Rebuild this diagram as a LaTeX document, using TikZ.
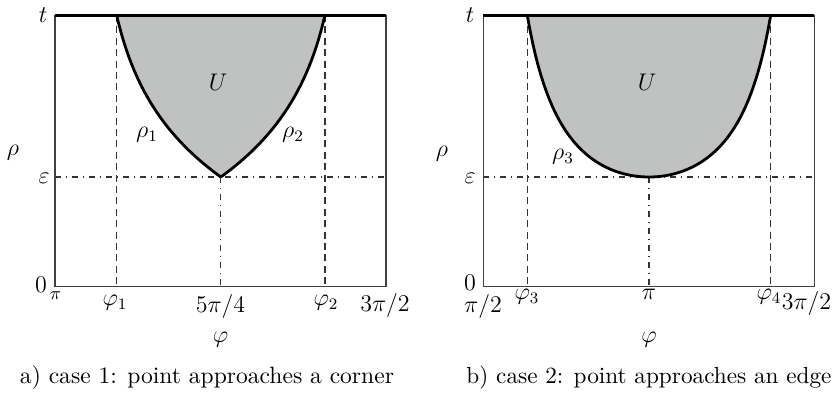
\documentclass[tikz,border=0pt]{standalone}
\usepackage{graphicx}
\begin{document}
\begin{tikzpicture}[x=0.5pt,y=-0.5pt,
  frame/.style={draw=black!75, line width=0.75pt},
  topline/.style={draw=black, line width=1.5pt},
  bdry/.style={draw=black, line width=1.4pt},
  ufill/.style={fill={rgb,255:red,192;green,194;blue,194}},
  vdash/.style={draw=black!80, line width=0.6pt, dash pattern=on 3.5pt off 2.2pt},
  dashdot/.style={draw=black!80, line width=0.6pt, dash pattern=on 3pt off 2.5pt on 0.5pt off 2.5pt},
  lbl/.style={font=\fontsize{12}{14}\selectfont, inner sep=0pt},
  slbl/.style={font=\fontsize{9}{11}\selectfont, inner sep=0pt},
  captxt/.style={font=\fontsize{10}{12}\selectfont, inner sep=0pt}]
\useasboundingbox (0,0) rectangle (839,392);

% ---------- panel a ----------
\coordinate (aTL) at (55,15);
\coordinate (aTR) at (386,15);
\coordinate (aBL) at (55,286.5);
\coordinate (aBR) at (386,286.5);
\coordinate (aEL) at (55,177);
\coordinate (aER) at (386,177);
\coordinate (aP1t) at (116.6,15);
\coordinate (aP1b) at (116.6,286.5);
\coordinate (aP2t) at (325,15);
\coordinate (aP2b) at (325,286.5);
\coordinate (aC) at (220.8,177);
\coordinate (aCb) at (220.8,286.5);

\draw[vdash] (aP1t) -- (aP1b);
\draw[vdash] (aP2t) -- (aP2b);
\draw[dashdot] (aEL) -- (aER);
\draw[dashdot] (aC) -- (aCb);

\fill[ufill] plot[domain=0:162, samples=70, variable=\h] ({220.8-124.8*(1-exp(-(162-\h)/90))},{177-(162-\h)})
  -- plot[domain=0:162, samples=70, variable=\h] ({220.8+124.8*(1-exp(-\h/90))},{177-\h}) -- cycle;
\draw[bdry] plot[domain=0:162, samples=70, variable=\h] ({220.8-124.8*(1-exp(-(162-\h)/90))},{177-(162-\h)});
\draw[bdry] plot[domain=0:162, samples=70, variable=\h] ({220.8+124.8*(1-exp(-\h/90))},{177-\h});

\draw[frame] (aTL) -- (aBL) -- (aBR) -- (aTR);
\draw[topline] (aTL) -- (aTR);

\node[lbl] (at) at (43,15) {$t$};
\node[lbl] (arho) at (13,153) {$\rho$};
\node[lbl] (aeps) at (44,178) {$\varepsilon$};
\node[lbl] (azero) at (41,285) {$0$};
\node[slbl] (api) at (55.5,296) {$\pi$};
\node[lbl] (aphi1) at (115,303) {$\varphi_1$};
\node[lbl] (a54) at (220.5,306) {$5\pi/4$};
\node[lbl] (aphi2) at (326,303) {$\varphi_2$};
\node[lbl] (a32) at (385,305.5) {$3\pi/2$};
\node[lbl] (aphi) at (220.5,340) {$\varphi$};
\node[captxt] (acap) at (207,378) {\resizebox{187pt}{!}{a) case 1: point approaches a corner}};
\node[lbl] (aU) at (218,82) {$U$};
\node[lbl] (arho1) at (147,135) {$\rho_1$};
\node[lbl] (arho2) at (293,135) {$\rho_2$};

% ---------- panel b ----------
\coordinate (bTL) at (483.3,15);
\coordinate (bTR) at (814.3,15);
\coordinate (bBL) at (483.3,286.5);
\coordinate (bBR) at (814.3,286.5);
\coordinate (bEL) at (483.3,177);
\coordinate (bER) at (814.3,177);
\coordinate (bP3t) at (527.2,15);
\coordinate (bP3b) at (527.2,286.5);
\coordinate (bP4t) at (770.8,15);
\coordinate (bP4b) at (770.8,286.5);
\coordinate (bC) at (649,177);
\coordinate (bCb) at (649,286.5);

\draw[vdash] (bP3t) -- (bP3b);
\draw[vdash] (bP4t) -- (bP4b);
\draw[dashdot] (bEL) -- (bER);
\draw[dashdot] (bC) -- (bCb);

\fill[ufill] plot[domain=-1.1558:1.1558, samples=90, variable=\s] ({649+105.36*\s},{286.5-109.5/cos(\s r)}) -- cycle;
\draw[bdry] plot[domain=-1.1558:1.1558, samples=90, variable=\s] ({649+105.36*\s},{286.5-109.5/cos(\s r)});

\draw[frame] (bTL) -- (bBL) -- (bBR) -- (bTR);
\draw[topline] (bTL) -- (bTR);

\node[lbl] (bt) at (470,15) {$t$};
\node[lbl] (brho) at (442,154) {$\rho$};
\node[lbl] (beps) at (470,178) {$\varepsilon$};
\node[lbl] (bzero) at (470,283) {$0$};
\node[lbl] (bpi2) at (483,306.5) {$\pi/2$};
\node[lbl] (bphi3) at (527,297) {$\varphi_3$};
\node[lbl] (bpi) at (649,294) {$\pi$};
\node[lbl] (bphi4) at (769,297) {$\varphi_4$};
\node[lbl] (b32) at (806.5,303) {$3\pi/2$};
\node[lbl] (bphi) at (649,340) {$\varphi$};
\node[captxt] (bcap) at (649,378) {\resizebox{182.5pt}{!}{b) case 2: point approaches an edge}};
\node[lbl] (bU) at (647,82) {$U$};
\node[lbl] (brho3) at (563,157) {$\rho_3$};
\end{tikzpicture}
\end{document}
